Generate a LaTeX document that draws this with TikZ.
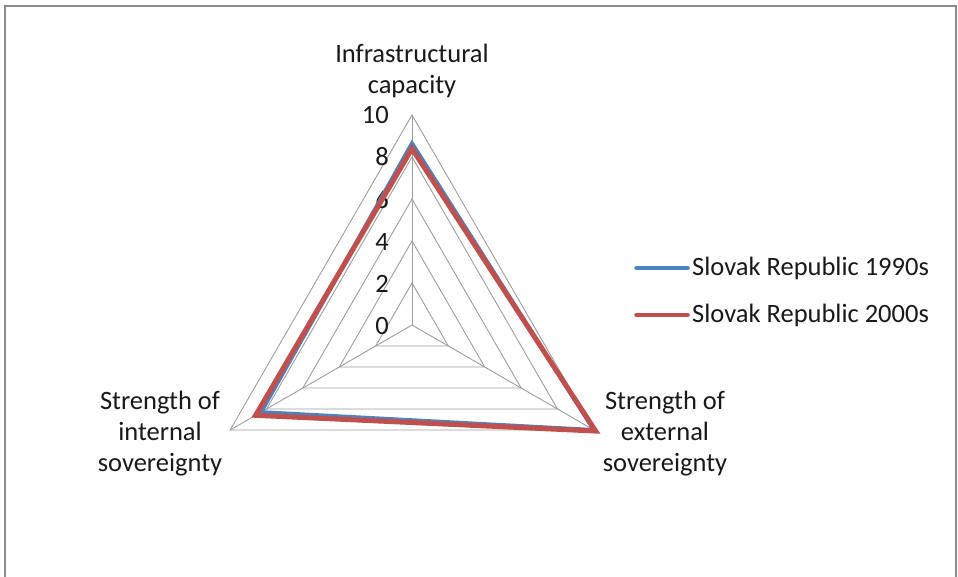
\documentclass[tikz,border=0pt]{standalone}
\usepackage{fontspec}
\setmainfont{Carlito}
\usetikzlibrary{calc}
\begin{document}
\begin{tikzpicture}[x=1pt,y=-1pt,
  grid/.style={draw=black!38,line width=0.9pt},
  frame/.style={draw=black!45,line width=2pt},
  lbl/.style={font=\fontsize{26.5}{31}\selectfont,text=black!90,align=center,inner sep=0pt},
  tick/.style={font=\fontsize{26.5}{28}\selectfont,text=black!90,anchor=east,inner sep=0pt},
  s90/.style={draw={rgb,255:red,79;green,129;blue,189},line width=4pt,line join=miter},
  s00/.style={draw={rgb,255:red,192;green,80;blue,77},line width=5pt,line join=miter}]
\useasboundingbox (0,0) rectangle (958,576);
\fill[white] (0,0) rectangle (958,576);
% chart area border
\draw[frame] (5,590) -- (5,6) -- (956,6) -- (956,590);
% radar centre and scale (radius of value 10); directions: up, lower left, lower right
\coordinate (c) at (412,325);
\def\R{210}
\def\aT{90}\def\aL{330}\def\aR{210}
% rings at 2,4,6,8,10
\foreach \v in {2,4,6,8,10}{
  \draw[grid] ($(c)+(\aT:{-\R*\v/10})$) -- ($(c)+(\aL:{-\R*\v/10})$) -- ($(c)+(\aR:{-\R*\v/10})$) -- cycle;
}
% spokes
\foreach \a in {\aT,\aL,\aR}{
  \draw[grid] (c) -- ($(c)+(\a:{-\R})$);
}
% scale labels
\foreach \v/\y in {0/326,2/284,4/242,6/200,8/157,10/115}{
  \node[tick] (t\v) at (389,\y) {\v};
}
% series
\draw[s90] ($(c)+(\aT:{-\R*0.865})$) -- ($(c)+(\aL:{-\R*0.83})$) -- ($(c)+(\aR:{-\R*1.0})$) -- cycle;
\draw[s00] ($(c)+(\aT:{-\R*0.84})$) -- ($(c)+(\aL:{-\R*0.86})$) -- ($(c)+(\aR:{-\R*1.01})$) -- cycle;
% axis titles
\node[lbl] (ax1) at (412,71) {Infrastructural\\capacity};
\node[lbl] (ax2) at (160,434) {Strength of\\internal\\sovereignty};
\node[lbl] (ax3) at (665,434) {Strength of\\external\\sovereignty};
% legend
\coordinate (l1a) at (636,268); \coordinate (l1b) at (688,268);
\coordinate (l2a) at (636,315); \coordinate (l2b) at (688,315);
\draw[s90,line width=3.5pt,line cap=round] (l1a) -- (l1b);
\draw[s00,line width=3.5pt,line cap=round] (l2a) -- (l2b);
\node[lbl,anchor=west] (k1) at (692,268) {Slovak Republic 1990s};
\node[lbl,anchor=west] (k2) at (692,315) {Slovak Republic 2000s};
\end{tikzpicture}
\end{document}
